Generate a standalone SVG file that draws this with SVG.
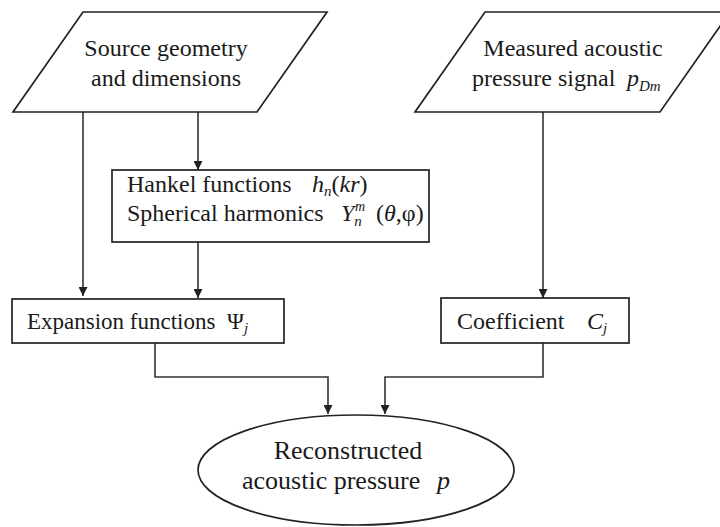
<svg xmlns="http://www.w3.org/2000/svg" width="720" height="527" viewBox="0 0 720 527">
  <style>
    .shape { fill: #ffffff; stroke: #222; stroke-width: 1.7; }
    .wire { fill: none; stroke: #333; stroke-width: 1.6; }
    text { font-family: "Liberation Serif", "Times New Roman", serif; font-size: 24px; fill: #1a1a1a; }
    .it { font-style: italic; }
    .sub { font-size: 15px; font-style: italic; }
    .sup { font-size: 14px; font-style: italic; }
  </style>
  <defs>
    <marker id="arrow" viewBox="0 0 10 10" refX="10" refY="5" markerWidth="9" markerHeight="9" markerUnits="userSpaceOnUse" orient="auto">
      <path d="M0,0 L10,5 L0,10 z" fill="#222"/>
    </marker>
  </defs>
  <rect width="720" height="527" fill="#ffffff"/>

  <g id="connectors">
    <path class="wire" d="M83,112 V296" marker-end="url(#arrow)"/>
    <path class="wire" d="M198,112 V170" marker-end="url(#arrow)"/>
    <path class="wire" d="M198,242 V298" marker-end="url(#arrow)"/>
    <path class="wire" d="M543,112 V298" marker-end="url(#arrow)"/>
    <path class="wire" d="M155,343 V377 H328 V414" marker-end="url(#arrow)"/>
    <path class="wire" d="M543,343 V377 H385 V414" marker-end="url(#arrow)"/>
  </g>

  <g id="source-geometry">
    <polygon class="shape" points="83,12 327,12 257,112 13,112"/>
    <text x="166" y="56" text-anchor="middle">Source geometry</text>
    <text x="166" y="86" text-anchor="middle">and dimensions</text>
  </g>

  <g id="measured-signal">
    <polygon class="shape" points="485,12 730,12 660,112 415,112"/>
    <text x="573" y="56" text-anchor="middle">Measured acoustic</text>
    <text x="472" y="86">pressure signal<tspan class="it" x="627">p</tspan><tspan class="sub" dy="5">Dm</tspan></text>
  </g>

  <g id="basis-functions">
    <rect class="shape" x="112" y="170" width="317" height="72"/>
    <text x="127" y="192">Hankel functions<tspan class="it" x="312">h</tspan><tspan class="sub" dy="4">n</tspan><tspan dy="-4">(</tspan><tspan class="it">kr</tspan>)</text>
    <text x="127" y="221">Spherical harmonics<tspan class="it" x="341">Y</tspan><tspan class="sub" dy="5">n</tspan><tspan class="sup" x="355" dy="-15">m</tspan><tspan x="376" dy="10">(</tspan><tspan class="it">θ</tspan>,φ)</text>
  </g>

  <g id="expansion-functions">
    <rect class="shape" x="12" y="299" width="272" height="44"/>
    <text x="27" y="329" style="font-size:23px">Expansion functions<tspan x="227">Ψ</tspan><tspan class="sub" dy="4">j</tspan></text>
  </g>

  <g id="coefficient">
    <rect class="shape" x="441" y="298" width="188" height="45"/>
    <text x="457" y="329">Coefficient<tspan class="it" x="587">C</tspan><tspan class="sub" dy="4">j</tspan></text>
  </g>

  <g id="reconstructed-pressure">
    <ellipse class="shape" cx="356" cy="470" rx="158" ry="55"/>
    <text x="348" y="459" text-anchor="middle" style="font-size:26px">Reconstructed</text>
    <text x="242" y="489" style="font-size:26px">acoustic pressure<tspan class="it" x="437">p</tspan></text>
  </g>
</svg>
